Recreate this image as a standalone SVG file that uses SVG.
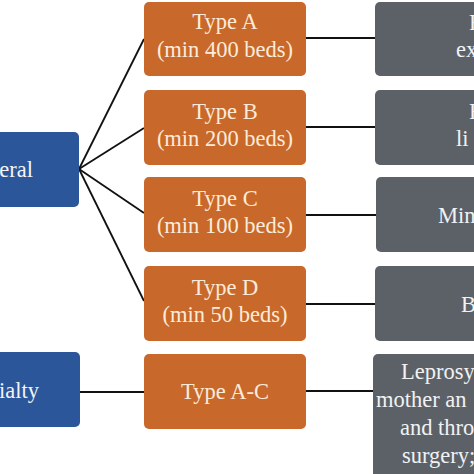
<svg xmlns="http://www.w3.org/2000/svg" width="474" height="474" viewBox="0 0 474 474">
<style>
.blue{fill:#2B569A}
.org{fill:#C8682B}
.gry{fill:#5C6168}
text{font-family:"Liberation Serif","Times New Roman",serif;font-size:22.5px}
.ot{fill:#FCEBD9;text-anchor:middle}
.bt{fill:#F4F4F4}
.gt{fill:#F2F2F2}
.ln{stroke:#111;stroke-width:1.8;fill:none}
</style>
<rect width="474" height="474" fill="#fff"/>
<g id="connectors">
<line class="ln" x1="79" y1="169" x2="144" y2="39"/>
<line class="ln" x1="79" y1="169" x2="144" y2="128"/>
<line class="ln" x1="79" y1="169" x2="144" y2="213"/>
<line class="ln" x1="79" y1="169" x2="144" y2="301"/>
<line class="ln" x1="80" y1="392" x2="144" y2="392"/>
<line class="ln" x1="306" y1="38" x2="375" y2="38"/>
<line class="ln" x1="306" y1="127" x2="375" y2="127"/>
<line class="ln" x1="306" y1="215" x2="376" y2="215"/>
<line class="ln" x1="306" y1="304" x2="375" y2="304"/>
<line class="ln" x1="306" y1="391" x2="373" y2="391"/>
</g>
<g id="general">
<rect class="blue" x="-20" y="132" width="99" height="75" rx="5"/>
<text class="bt" x="33" y="177" text-anchor="end">eral</text>
</g>
<g id="specialty">
<rect class="blue" x="-20" y="352" width="100" height="75" rx="5"/>
<text class="bt" x="39" y="398" text-anchor="end">ialty</text>
</g>
<g id="typeA">
<rect class="org" x="144" y="2" width="162" height="74" rx="5"/>
<text class="ot" x="225" y="29">Type A</text>
<text class="ot" x="225" y="57">(min 400 beds)</text>
</g>
<g id="typeB">
<rect class="org" x="144" y="90" width="162" height="75" rx="5"/>
<text class="ot" x="225" y="119">Type B</text>
<text class="ot" x="225" y="146">(min 200 beds)</text>
</g>
<g id="typeC">
<rect class="org" x="144" y="177" width="162" height="75" rx="5"/>
<text class="ot" x="225" y="206">Type C</text>
<text class="ot" x="225" y="233">(min 100 beds)</text>
</g>
<g id="typeD">
<rect class="org" x="144" y="266" width="162" height="75" rx="5"/>
<text class="ot" x="225" y="295">Type D</text>
<text class="ot" x="225" y="322">(min 50 beds)</text>
</g>
<g id="typeAC">
<rect class="org" x="144" y="354" width="162" height="75" rx="5"/>
<text class="ot" x="225" y="399">Type A-C</text>
</g>
<g id="descA">
<rect class="gry" x="375" y="2" width="120" height="74" rx="5"/>
<text class="gt" x="469" y="30">F</text>
<text class="gt" x="456" y="57">ex</text>
</g>
<g id="descB">
<rect class="gry" x="375" y="90" width="120" height="75" rx="5"/>
<text class="gt" x="469" y="119">F</text>
<text class="gt" x="456" y="146">li</text>
</g>
<g id="descC">
<rect class="gry" x="376" y="177" width="120" height="75" rx="5"/>
<text class="gt" x="438" y="223">Min</text>
</g>
<g id="descD">
<rect class="gry" x="375" y="266" width="120" height="75" rx="5"/>
<text class="gt" x="461" y="312">B</text>
</g>
<g id="descE">
<rect class="gry" x="373" y="354" width="130" height="140" rx="5"/>
<text class="gt" x="401" y="379">Leprosy</text>
<text class="gt" x="376" y="407">mother an</text>
<text class="gt" x="400" y="435">and thro</text>
<text class="gt" x="402" y="463">surgery;</text>
</g>
</svg>
